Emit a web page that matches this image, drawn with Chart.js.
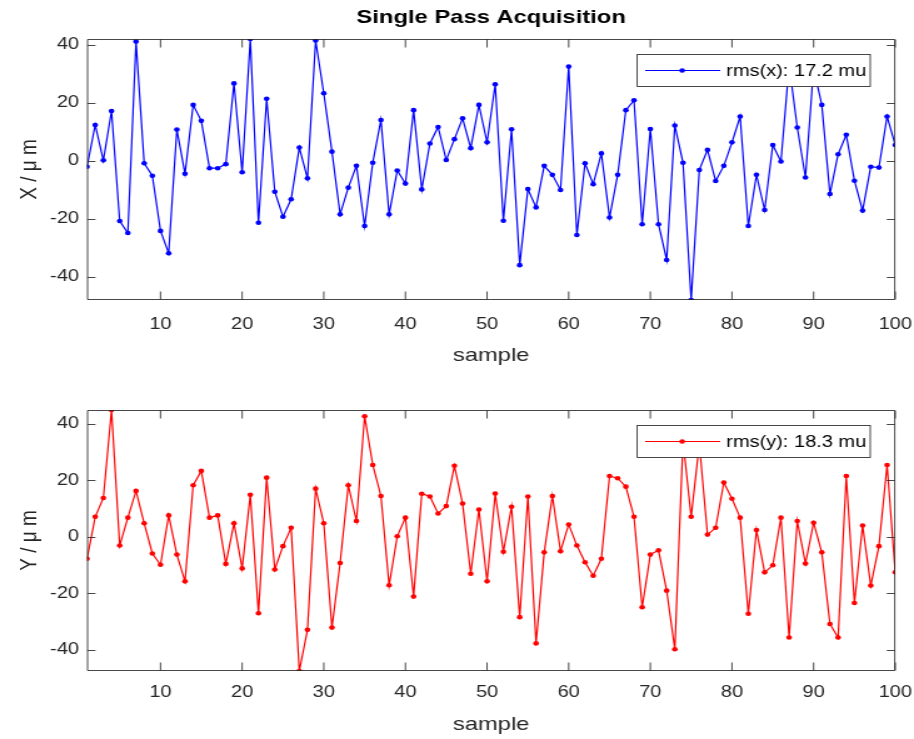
<!DOCTYPE html>
<html>
<head>
<meta charset="utf-8">
<script src="https://cdn.jsdelivr.net/npm/chart.js@4.4.0/dist/chart.umd.min.js"></script>
<style>
html,body{margin:0;padding:0;background:#fff;}
#w{position:relative;width:914px;height:739px;overflow:hidden;}
#c1{position:absolute;left:0;top:0;width:914px;height:370px;}
#c2{position:absolute;left:0;top:370px;width:914px;height:369px;}
</style>
</head>
<body>
<div id="w">
<canvas id="c1" width="731" height="370" style="width:914px;height:370px"></canvas>
<canvas id="c2" width="731" height="369" style="width:914px;height:369px"></canvas>
</div>
<script>
const samples = [1,2,3,4,5,6,7,8,9,10,11,12,13,14,15,16,17,18,19,20,21,22,23,24,25,26,27,28,29,30,31,32,33,34,35,36,37,38,39,40,41,42,43,44,45,46,47,48,49,50,51,52,53,54,55,56,57,58,59,60,61,62,63,64,65,66,67,68,69,70,71,72,73,74,75,76,77,78,79,80,81,82,83,84,85,86,87,88,89,90,91,92,93,94,95,96,97,98,99,100];

const xValues = [-2.0,12.4,0.2,17.2,-20.7,-24.8,41.1,-0.8,-5.1,-24.1,
  -31.8,10.8,-4.4,19.3,13.8,-2.5,-2.5,-1.1,26.7,-3.9,
  42.0,-21.3,21.4,-10.6,-19.2,-13.2,4.6,-6.0,41.5,23.3,
  3.2,-18.4,-9.2,-1.7,-22.4,-0.6,14.1,-18.4,-3.3,-7.8,
  17.5,-9.8,6.0,11.7,0.3,7.5,14.7,4.4,19.3,6.4,
  26.4,-20.6,10.9,-35.9,-9.7,-16.0,-1.7,-4.8,-10.0,32.5,
  -25.5,-0.8,-8.0,2.6,-19.5,-4.8,17.5,20.9,-21.8,11.0,
  -21.8,-34.1,12.2,-0.6,-47.9,-3.1,3.8,-6.9,-1.7,6.4,
  15.3,-22.4,-4.8,-16.9,5.5,-0.2,33.0,11.5,-5.7,32.0,
  19.3,-11.4,2.3,9.0,-6.8,-17.1,-2.0,-2.3,15.3,5.5];

const yValues = [-7.8,7.1,13.8,45.0,-3.1,6.8,16.3,4.8,-5.9,-9.9,
  7.6,-6.3,-15.8,18.3,23.4,6.8,7.6,-9.6,4.8,-11.2,
  14.9,-27.1,21.0,-11.6,-3.3,3.2,-47.6,-33.0,17.1,4.8,
  -32.2,-9.3,18.3,5.6,42.8,25.5,14.5,-17.2,0.2,6.8,
  -21.2,15.3,14.3,8.3,10.9,25.2,11.8,-13.1,9.7,-15.8,
  15.4,-5.3,10.7,-28.5,14.3,-37.8,-5.5,14.5,-5.1,4.4,
  -3.1,-9.0,-13.8,-7.8,21.6,20.8,17.8,7.1,-25.0,-6.3,
  -4.8,-19.1,-39.9,34.0,7.1,33.0,0.8,3.2,19.3,13.5,
  6.8,-27.3,2.4,-12.6,-10.1,6.8,-35.7,5.6,-9.5,5.0,
  -5.5,-30.9,-35.7,21.6,-23.5,4.0,-17.3,-3.3,25.5,-12.6];

const xTicks = [10,20,30,40,50,60,70,80,90,100];
const yTicks = [-40,-20,0,20,40];
const legendX = 'rms(x): 17.2 mu';
const legendY = 'rms(y): 18.3 mu';
const titleText = 'Single Pass Acquisition';

const FONT = '"Liberation Sans", Arial, Helvetica, sans-serif';
const AXC = '#262626';
const SX = 1.25; // horizontal stretch of the drawing (canvas 731 -> 914 css px)

const frame = {
  id: 'frame',
  afterDatasetsDraw(chart) {
    const {ctx, chartArea: a} = chart;
    const xs = chart.scales.x, ys = chart.scales.y;
    ctx.save();
    ctx.strokeStyle = AXC;
    ctx.lineWidth = 1;
    const L = a.left + 0.4, R = a.right - 0.4;
    const T = Math.round(a.top) + 0.5, B = Math.round(a.bottom) - 0.5;
    const tx = 8 / SX, ty = 8;
    ctx.beginPath();
    ctx.rect(L, T, R - L, B - T);
    xs.ticks.forEach(t => {
      const px = xs.getPixelForValue(t.value);
      ctx.moveTo(px, B); ctx.lineTo(px, B - ty);
      ctx.moveTo(px, T); ctx.lineTo(px, T + ty);
    });
    ys.ticks.forEach(t => {
      const py = Math.round(ys.getPixelForValue(t.value)) + 0.5;
      ctx.moveTo(L, py); ctx.lineTo(L + tx, py);
      ctx.moveTo(R, py); ctx.lineTo(R - tx, py);
    });
    ctx.lineWidth = 0.85;
    ctx.stroke();

    // legend box (inside, north-east)
    const ds = chart.data.datasets[0];
    const w = 233 / SX, h = 32;
    const bx = a.right - 25 / SX - w, by = Math.round(a.top + 15) + 0.5;
    ctx.fillStyle = '#fff';
    ctx.fillRect(bx, by, w, h);
    ctx.strokeStyle = AXC;
    ctx.strokeRect(bx, by, w, h);
    const my = by + h / 2;
    ctx.strokeStyle = ds.borderColor;
    ctx.lineWidth = 1.2;
    ctx.beginPath();
    ctx.moveTo(bx + 8 / SX, my); ctx.lineTo(bx + 83 / SX, my);
    ctx.stroke();
    ctx.fillStyle = ds.borderColor;
    ctx.beginPath();
    ctx.arc(bx + 45 / SX, my, 2.3, 0, Math.PI * 2);
    ctx.fill();
    ctx.fillStyle = '#000';
    ctx.font = '16px ' + FONT;
    ctx.textBaseline = 'middle';
    ctx.textAlign = 'left';
    ctx.fillText(ds.label, bx + 89 / SX, my + 1);
    ctx.restore();
  }
};

function makeChart(id, vals, color, label, yTitle, withTitle, padTop, xHeight, xTickPad) {
  return new Chart(document.getElementById(id), {
    type: 'line',
    data: {
      datasets: [{
        label: label,
        data: samples.map((s, i) => ({x: s, y: vals[i]})),
        borderColor: color,
        backgroundColor: color,
        borderWidth: 1.2,
        pointRadius: 2.3,
        pointHoverRadius: 2.3,
        pointBorderWidth: 0,
        tension: 0,
        fill: false
      }]
    },
    options: {
      responsive: false,
      animation: false,
      devicePixelRatio: 1,
      events: [],
      layout: {padding: {left: 0, right: 731 - 895 / SX, top: padTop, bottom: 0}},
      plugins: {
        legend: {display: false},
        tooltip: {enabled: false},
        title: withTitle ? {
          display: true, text: titleText, color: '#000', fullSize: false,
          font: {family: FONT, size: 19, weight: 'bold', lineHeight: 1.2},
          padding: {top: 6, bottom: 10.2}
        } : {display: false}
      },
      scales: {
        x: {
          type: 'linear', min: 1, max: 100,
          grid: {display: false, drawTicks: false},
          border: {display: false},
          afterBuildTicks: s => { s.ticks = xTicks.map(v => ({value: v})); },
          afterFit: s => { s.height = xHeight; s.paddingLeft = 0; s.paddingRight = 0; },
          ticks: {color: AXC, padding: xTickPad, maxRotation: 0, autoSkip: false,
                  font: {family: FONT, size: 16, lineHeight: 1.2}},
          title: {display: true, text: 'sample', color: AXC,
                  font: {family: FONT, size: 19, lineHeight: 1.2},
                  padding: {top: 0, bottom: 3}}
        },
        y: {
          type: 'linear', min: Math.min(...vals), max: Math.max(...vals),
          grid: {display: false, drawTicks: false},
          border: {display: false},
          afterBuildTicks: s => { s.ticks = yTicks.map(v => ({value: v})); },
          afterFit: s => { s.width = 87 / SX; s.paddingTop = 0; s.paddingBottom = 0; },
          ticks: {color: AXC, padding: 8 / SX, autoSkip: false,
                  font: {family: FONT, size: 16, lineHeight: 1.2}},
          title: {display: true, text: yTitle, color: AXC,
                  font: {family: FONT, size: 19, lineHeight: 1.2},
                  padding: {top: 30 / SX - 11.4, bottom: 0}}
        }
      }
    },
    plugins: [frame]
  });
}

makeChart('c1', xValues, '#0000ff', legendX, 'X / \u03bc m', true, 0, 70, 15);
makeChart('c2', yValues, '#ff0000', legendY, 'Y / \u03bc m', false, 40, 68, 12);
</script>
</body>
</html>
